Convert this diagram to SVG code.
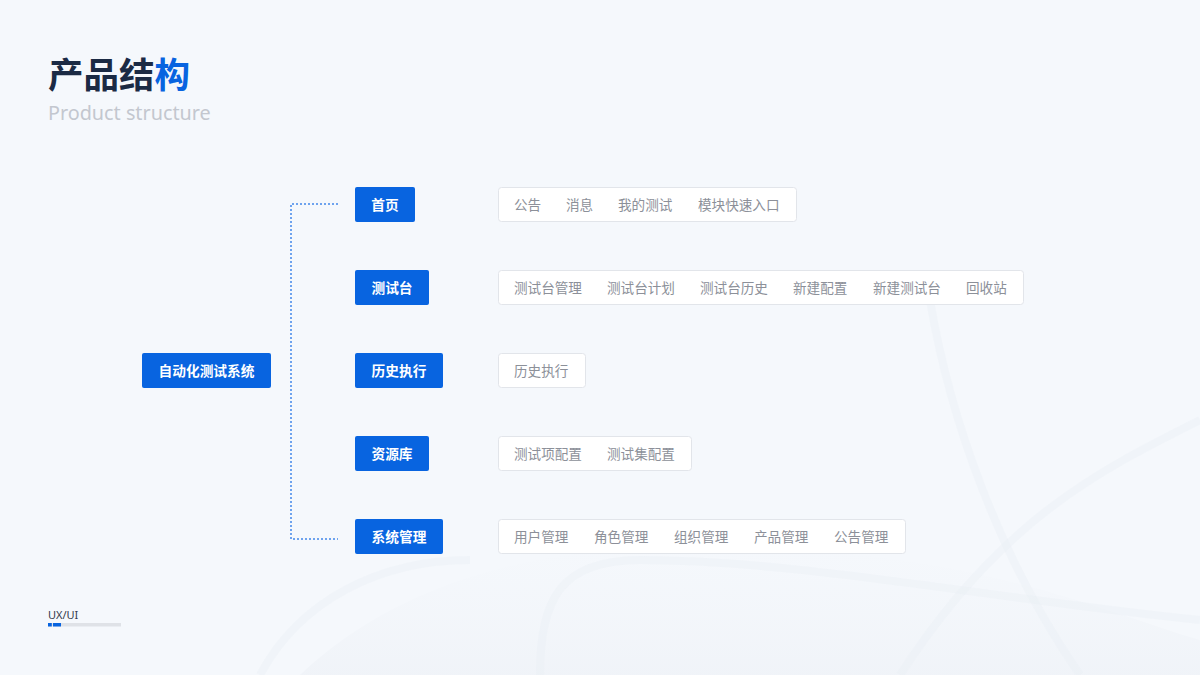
<svg xmlns="http://www.w3.org/2000/svg" width="1200" height="675" viewBox="0 0 1200 675">
<defs>
<style>
.bg{fill:#f5f8fc}
.node rect{fill:#0864e0}
.node text{fill:#ffffff;font-family:"Noto Sans CJK SC","Noto Sans",sans-serif;font-size:13.7px;font-weight:bold}
.box rect{fill:#ffffff;stroke:#e2e5ea;stroke-width:1}
.box text{fill:#8c9099;font-family:"Noto Sans CJK SC","Noto Sans",sans-serif;font-size:13.6px}
.conn{fill:none;stroke:#6ea3ee;stroke-width:2;stroke-dasharray:2 2}
.swoosh{fill:none;stroke:#e9edf3;stroke-width:8;opacity:0.35}
</style>
<linearGradient id="fade" x1="0" y1="0" x2="0" y2="1">
<stop offset="0" stop-color="#eef2f7" stop-opacity="0"/>
<stop offset="1" stop-color="#e9edf3" stop-opacity="0.8"/>
</linearGradient>
</defs>
<rect class="bg" x="0" y="0" width="1200" height="675"/>
<g id="background">
<path d="M300 675 C420 560 620 520 900 560 C1040 580 1130 620 1200 640 L1200 675 Z" fill="url(#fade)" opacity="0.5"/>
<path class="swoosh" d="M540 675 C540 600 560 560 640 560 C800 560 1000 600 1200 620"/>
<path class="swoosh" d="M930 300 C950 420 1000 560 1080 675"/>
<path class="swoosh" d="M1200 420 C1100 470 1000 520 900 675"/>
<path class="swoosh" d="M260 675 C300 600 380 560 470 560"/>
</g>
<g id="title">
<text x="48" y="88" font-family="Noto Sans CJK SC,sans-serif" font-size="35.5" font-weight="bold" fill="#1b2a44">产品结<tspan fill="#0864e0">构</tspan></text>
<text x="48" y="120" font-family="Noto Sans,sans-serif" font-size="19.8" fill="#c3c7cf">Product structure</text>
</g>
<g id="connectors">
<path class="conn" d="M338 204 H291 V539 H338"/>
</g>
<g id="root" class="node">
<rect x="142" y="353" width="129" height="35" rx="2"/>
<text x="206.5" y="375.5" text-anchor="middle">自动化测试系统</text>
</g>
<g id="n-home" class="node">
<rect x="355" y="187" width="60" height="35" rx="2"/>
<text x="385" y="209.5" text-anchor="middle">首页</text>
</g>
<g id="n-bench" class="node">
<rect x="355" y="270" width="74" height="35" rx="2"/>
<text x="392" y="292.5" text-anchor="middle">测试台</text>
</g>
<g id="n-history" class="node">
<rect x="355" y="353" width="88" height="35" rx="2"/>
<text x="399" y="375.5" text-anchor="middle">历史执行</text>
</g>
<g id="n-res" class="node">
<rect x="355" y="436" width="74" height="35" rx="2"/>
<text x="392" y="458.5" text-anchor="middle">资源库</text>
</g>
<g id="n-sys" class="node">
<rect x="355" y="519" width="88" height="35" rx="2"/>
<text x="399" y="541.5" text-anchor="middle">系统管理</text>
</g>
<g id="b-home" class="box">
<rect x="498.5" y="187.5" width="298" height="34" rx="3"/>
<text x="514" y="209.5">公告</text>
<text x="566" y="209.5">消息</text>
<text x="618" y="209.5">我的测试</text>
<text x="698" y="209.5">模块快速入口</text>
</g>
<g id="b-bench" class="box">
<rect x="498.5" y="270.5" width="525" height="34" rx="3"/>
<text x="514" y="292.5">测试台管理</text>
<text x="607" y="292.5">测试台计划</text>
<text x="700" y="292.5">测试台历史</text>
<text x="793" y="292.5">新建配置</text>
<text x="873" y="292.5">新建测试台</text>
<text x="966" y="292.5">回收站</text>
</g>
<g id="b-history" class="box">
<rect x="498.5" y="353.5" width="87" height="34" rx="3"/>
<text x="514" y="375.5">历史执行</text>
</g>
<g id="b-res" class="box">
<rect x="498.5" y="436.5" width="193" height="34" rx="3"/>
<text x="514" y="458.5">测试项配置</text>
<text x="607" y="458.5">测试集配置</text>
</g>
<g id="b-sys" class="box">
<rect x="498.5" y="519.5" width="407" height="34" rx="3"/>
<text x="514" y="541.5">用户管理</text>
<text x="594" y="541.5">角色管理</text>
<text x="674" y="541.5">组织管理</text>
<text x="754" y="541.5">产品管理</text>
<text x="834" y="541.5">公告管理</text>
</g>
<g id="footer">
<text x="48" y="619" font-family="Noto Sans,sans-serif" font-size="11" fill="#333b4c">UX/UI</text>
<rect x="48" y="623" width="73" height="3.5" fill="#dfe2e7"/>
<rect x="48" y="623" width="3.8" height="3.5" fill="#0864e0"/>
<rect x="53" y="623" width="8" height="3.5" fill="#0864e0"/>
</g>
</svg>
